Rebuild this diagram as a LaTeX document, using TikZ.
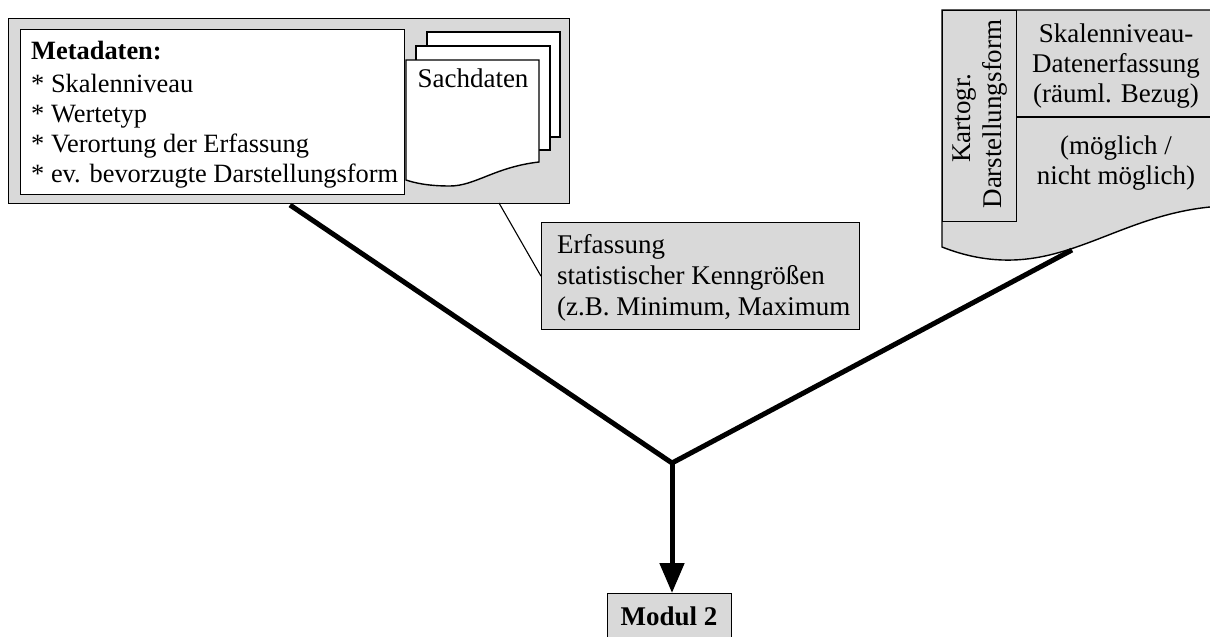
\documentclass[tikz,border=0pt]{standalone}
\usepackage{fontspec}
\setmainfont{Liberation Serif}
\usetikzlibrary{arrows.meta}
\definecolor{boxgray}{RGB}{217,217,217}
\tikzset{
  thinframe/.style={draw=black, line width=1.4pt},
  graybox/.style={thinframe, fill=boxgray, inner sep=0pt},
  whitebox/.style={thinframe, fill=white, inner sep=0pt},
  txt/.style={inner sep=0pt, font=\fontsize{27}{30}\selectfont},
  thickline/.style={line width=5pt},
  leader/.style={line width=1.1pt}
}
\begin{document}
\begin{tikzpicture}[x=1pt,y=-1pt]
\useasboundingbox (0,0) rectangle (1210,637);
\clip (0,0) rectangle (1210,637);
% left group
\node[graybox, minimum width=561pt, minimum height=185pt, anchor=north west] (outer) at (8,18) {};
\node[whitebox, minimum width=384pt, minimum height=165pt, anchor=north west] (meta) at (20,29) {};
\node[txt, anchor=north west, align=left, font=\fontsize{26.4}{30}\selectfont] (metatext) at (31,41)
  {\textbf{Metadaten:}\\[3pt]* Skalenniveau\\* Wertetyp\\* Verortung der Erfassung\\* ev. bevorzugte Darstellungsform};
% pages
\draw[thinframe, fill=white] (427,32) rectangle (560,137);
\draw[thinframe, fill=white] (416,46) rectangle (550,150);
\draw[thinframe, fill=white] (406,60) -- (539,60) -- (539,162)
  .. controls (495,167) and (475,186) .. (450,186)
  .. controls (428,186) and (415,183) .. (406,180) -- cycle;
\node[txt] (sach) at (473,78) {Sachdaten};
% statistics box
\node[graybox, minimum width=318pt, minimum height=107pt, anchor=north west] (stat) at (541,222) {};
\node[txt, anchor=north west, align=left, font=\fontsize{27}{31}\selectfont] (stattext) at (557,234)
  {Erfassung\\statistischer Kenngrößen\\(z.B. Minimum, Maximum};
\coordinate (leadstart) at (499,203);
\draw[leader] (leadstart) -- (stat.west);
% right document shape
\draw[thinframe, fill=boxgray] (942,10) -- (1216,10) -- (1216,207) -- (1210,207)
  .. controls (1130,215) and (1080,258) .. (1013,260)
  .. controls (980,261) and (955,252) .. (942,247) -- cycle;
\node[graybox, minimum width=74pt, minimum height=211pt, anchor=north west] (col) at (942,10) {};
\coordinate (divL) at (1016,117);
\coordinate (divR) at (1216,117);
\draw[thinframe] (divL) -- (divR);
\node[txt, rotate=90] (kart) at (965,118) {Kartogr.};
\node[txt, rotate=90] (darst) at (995,114) {Darstellungsform};
\node[txt, anchor=north, align=center, font=\fontsize{27}{30}\selectfont] (skal) at (1116,24)
  {Skalenniveau-\\Datenerfassung\\(räuml. Bezug)};
\node[txt, anchor=north, align=center, font=\fontsize{27}{30}\selectfont] (moeg) at (1116,136)
  {(möglich /\\nicht möglich)};
% connectors
\coordinate (leftend) at (290,205);
\coordinate (rightend) at (1072,250);
\coordinate (join) at (672,463);
\node[graybox, minimum width=124pt, minimum height=60pt, anchor=north west] (modul) at (607,593) {};
\node[txt, anchor=base, font=\fontsize{27}{28}\selectfont\bfseries] (modultext) at (669,625) {Modul 2};
\draw[thickline] (leftend) -- (join) -- (rightend);
\draw[thickline, -{Triangle[length=30pt,width=24pt]}] (join) -- (modul.north -| join);
\end{tikzpicture}
\end{document}
